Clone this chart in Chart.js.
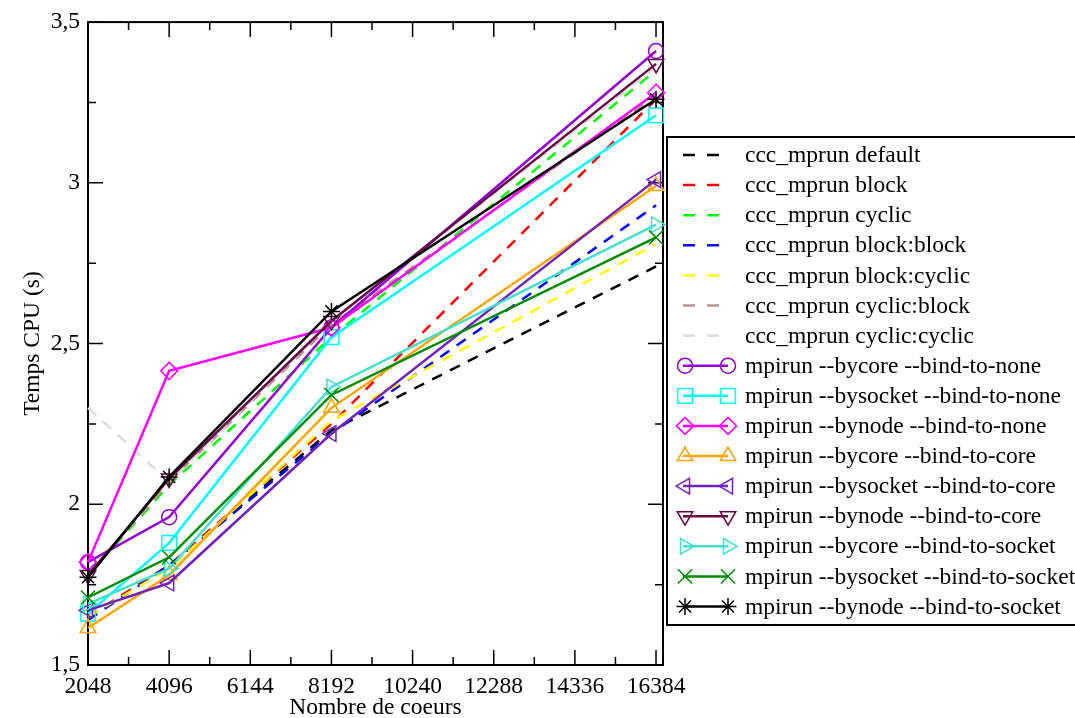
<!DOCTYPE html>
<html>
<head>
<meta charset="utf-8">
<script src="https://cdn.jsdelivr.net/npm/chart.js"></script>
<style>
  html, body { margin: 0; padding: 0; background: #fff; }
  #wrap { width: 1075px; height: 718px; }
</style>
</head>
<body>
<div id="wrap"><canvas id="cpuChart" width="1075" height="718"></canvas></div>
<script>
// Temps CPU selon le nombre de coeurs et le placement des processus
const coeurs = [2048, 4096, 8192, 16384];
const xTicks = [2048, 4096, 6144, 8192, 10240, 12288, 14336, 16384];
const yTicks = [1.5, 2, 2.5, 3, 3.5];

const cccDefault      = [1.65, 1.81, 2.23, 2.74];
const cccBlock        = [1.65, 1.81, 2.25, 3.26];
const cccCyclic       = [1.78, 2.06, 2.52, 3.35];
const cccBlockBlock   = [1.64, 1.81, 2.22, 2.93];
const cccBlockCyclic  = [1.65, 1.80, 2.26, 2.81];
const cccCyclicBlock  = [1.78, 2.07, 2.56, 3.27];
const cccCyclicCyclic = [2.30, 2.07, 2.57, 3.36];

const bycoreNone     = [1.82, 1.96, 2.55, 3.41];
const bysocketNone   = [1.66, 1.88, 2.52, 3.21];
const bynodeNone     = [1.82, 2.415, 2.55, 3.28];
const bycoreCore     = [1.615, 1.78, 2.30, 2.99];
const bysocketCore   = [1.67, 1.755, 2.22, 3.01];
const bynodeCore     = [1.78, 2.08, 2.57, 3.37];
const bycoreSocket   = [1.69, 1.80, 2.365, 2.87];
const bysocketSocket = [1.71, 1.835, 2.34, 2.83];
const bynodeSocket   = [1.773, 2.085, 2.60, 3.26];

const series = [
  { label: 'ccc_mprun default',      values: cccDefault,      color: '#000000', dash: true },
  { label: 'ccc_mprun block',        values: cccBlock,        color: '#ff0000', dash: true },
  { label: 'ccc_mprun cyclic',       values: cccCyclic,       color: '#00ff00', dash: true },
  { label: 'ccc_mprun block:block',  values: cccBlockBlock,   color: '#0000ff', dash: true },
  { label: 'ccc_mprun block:cyclic', values: cccBlockCyclic,  color: '#ffff00', dash: true },
  { label: 'ccc_mprun cyclic:block', values: cccCyclicBlock,  color: '#bc8f8f', dash: true },
  { label: 'ccc_mprun cyclic:cyclic',values: cccCyclicCyclic, color: '#dcdcdc', dash: true },
  { label: 'mpirun --bycore --bind-to-none',     values: bycoreNone,     color: '#9400d3', style: 'circle',   radius: 7.5 },
  { label: 'mpirun --bysocket --bind-to-none',   values: bysocketNone,   color: '#00ffff', style: 'rect',     radius: 10.5 },
  { label: 'mpirun --bynode --bind-to-none',     values: bynodeNone,     color: '#ff00ff', style: 'rectRot',  radius: 8.5 },
  { label: 'mpirun --bycore --bind-to-core',     values: bycoreCore,     color: '#ffa500', style: 'triangle', radius: 9, rot: 0 },
  { label: 'mpirun --bysocket --bind-to-core',   values: bysocketCore,   color: '#7221bc', style: 'triangle', radius: 9, rot: -90 },
  { label: 'mpirun --bynode --bind-to-core',     values: bynodeCore,     color: '#670748', style: 'triangle', radius: 9, rot: 180 },
  { label: 'mpirun --bycore --bind-to-socket',   values: bycoreSocket,   color: '#40e0d0', style: 'triangle', radius: 9, rot: 90 },
  { label: 'mpirun --bysocket --bind-to-socket', values: bysocketSocket, color: '#008b00', style: 'crossRot', radius: 10 },
  { label: 'mpirun --bynode --bind-to-socket',   values: bynodeSocket,   color: '#000000', style: 'star',     radius: 8.5 }
];

const FONT = 'Liberation Serif, Times New Roman, serif';
const FSIZE = 23.5;
const n = series.length;

const datasets = series.map((s, i) => ({
  label: s.label,
  data: coeurs.map((c, k) => ({ x: c, y: s.values[k] })),
  borderColor: s.color,
  backgroundColor: 'rgba(0,0,0,0)',
  borderWidth: 2.5,
  borderDash: s.dash ? [11, 9] : [],
  pointStyle: s.style || 'circle',
  pointRadius: s.dash ? 0 : s.radius,
  pointRotation: s.rot || 0,
  pointBorderColor: s.color,
  pointBackgroundColor: 'rgba(0,0,0,0)',
  pointBorderWidth: 1.5,
  tension: 0,
  clip: false,
  order: n - i
}));

// frame with inward ticks on all four sides
const framePlugin = {
  id: 'frame',
  beforeDatasetsDraw(chart) {
    const { ctx, chartArea: a, scales: { x, y } } = chart;
    ctx.save();
    ctx.strokeStyle = '#000';
    ctx.lineWidth = 2;
    ctx.strokeRect(a.left, a.top, a.right - a.left, a.bottom - a.top);
    ctx.lineWidth = 1.5;
    ctx.beginPath();
    for (let v = 2048; v <= 16384; v += 1024) {
      const px = x.getPixelForValue(v);
      const len = v % 2048 === 0 ? 15 : 8;
      ctx.moveTo(px, a.bottom); ctx.lineTo(px, a.bottom - len);
      ctx.moveTo(px, a.top); ctx.lineTo(px, a.top + len);
    }
    for (let v = 1.5; v <= 3.5001; v += 0.25) {
      const py = y.getPixelForValue(v);
      const major = Math.abs(v * 2 - Math.round(v * 2)) < 1e-6;
      const len = major ? 15 : 8;
      ctx.moveTo(a.left, py); ctx.lineTo(a.left + len, py);
      ctx.moveTo(a.right, py); ctx.lineTo(a.right - len, py);
    }
    ctx.stroke();
    ctx.restore();
  }
};

// boxed legend to the right of the plot
const legendPlugin = {
  id: 'boxLegend',
  afterDraw(chart) {
    const ctx = chart.ctx;
    const left = 667, top = 137, bottom = 625;
    const rowTop = 155, rowStep = 30.1;
    ctx.save();
    ctx.fillStyle = '#fff';
    ctx.fillRect(left, top, 1090 - left, bottom - top);
    ctx.strokeStyle = '#000';
    ctx.lineWidth = 2;
    ctx.strokeRect(left, top, 1090 - left, bottom - top);
    series.forEach((s, i) => {
      const yy = rowTop + i * rowStep;
      ctx.strokeStyle = s.color;
      ctx.lineWidth = 2.5;
      ctx.setLineDash(s.dash ? [12, 12] : []);
      ctx.beginPath();
      ctx.moveTo(683, yy);
      ctx.lineTo(s.dash ? 719 : 728, yy);
      ctx.stroke();
      ctx.setLineDash([]);
      if (!s.dash) {
        const opts = { pointStyle: s.style, rotation: s.rot || 0, radius: s.radius, borderWidth: 1.5 };
        ctx.fillStyle = 'rgba(0,0,0,0)';
        ctx.strokeStyle = s.color;
        ctx.lineWidth = 1.5;
        [685, 728].forEach(px => Chart.helpers.drawPoint(ctx, opts, px, yy));
      }
      ctx.fillStyle = '#000';
      ctx.font = FSIZE + 'px ' + FONT;
      ctx.textBaseline = 'middle';
      ctx.textAlign = 'left';
      ctx.fillText(s.label, 745, yy + 1);
    });
    ctx.restore();
  }
};

new Chart(document.getElementById('cpuChart').getContext('2d'), {
  type: 'line',
  data: { datasets: datasets },
  plugins: [framePlugin, legendPlugin],
  options: {
    responsive: false,
    animation: false,
    devicePixelRatio: 1,
    layout: { padding: { top: 20, right: 412, bottom: 0, left: 0 } },
    plugins: { legend: { display: false }, tooltip: { enabled: false } },
    scales: {
      x: {
        type: 'linear',
        min: 2048,
        max: 16560,
        afterFit(s) { s.height = 53; },
        afterBuildTicks(s) { s.ticks = xTicks.map(v => ({ value: v })); },
        grid: { display: false, drawTicks: false },
        border: { display: false },
        ticks: {
          autoSkip: false, maxRotation: 0, padding: 8, color: '#000',
          font: { family: FONT, size: FSIZE },
          callback: v => String(v)
        },
        title: {
          display: true, text: 'Nombre de coeurs', color: '#000',
          font: { family: FONT, size: FSIZE, lineHeight: 1 }, padding: { top: 0, bottom: -2 }
        }
      },
      y: {
        min: 1.5,
        max: 3.5,
        afterFit(s) { s.width = 88; },
        afterBuildTicks(s) { s.ticks = yTicks.map(v => ({ value: v })); },
        grid: { display: false, drawTicks: false },
        border: { display: false },
        ticks: {
          padding: 8, color: '#000',
          font: { family: FONT, size: FSIZE },
          callback: v => String(v).replace('.', ',')
        },
        title: {
          display: true, text: 'Temps CPU (s)', color: '#000',
          font: { family: FONT, size: FSIZE }, padding: { top: 19, bottom: 0 }
        }
      }
    }
  }
});
</script>
</body>
</html>
